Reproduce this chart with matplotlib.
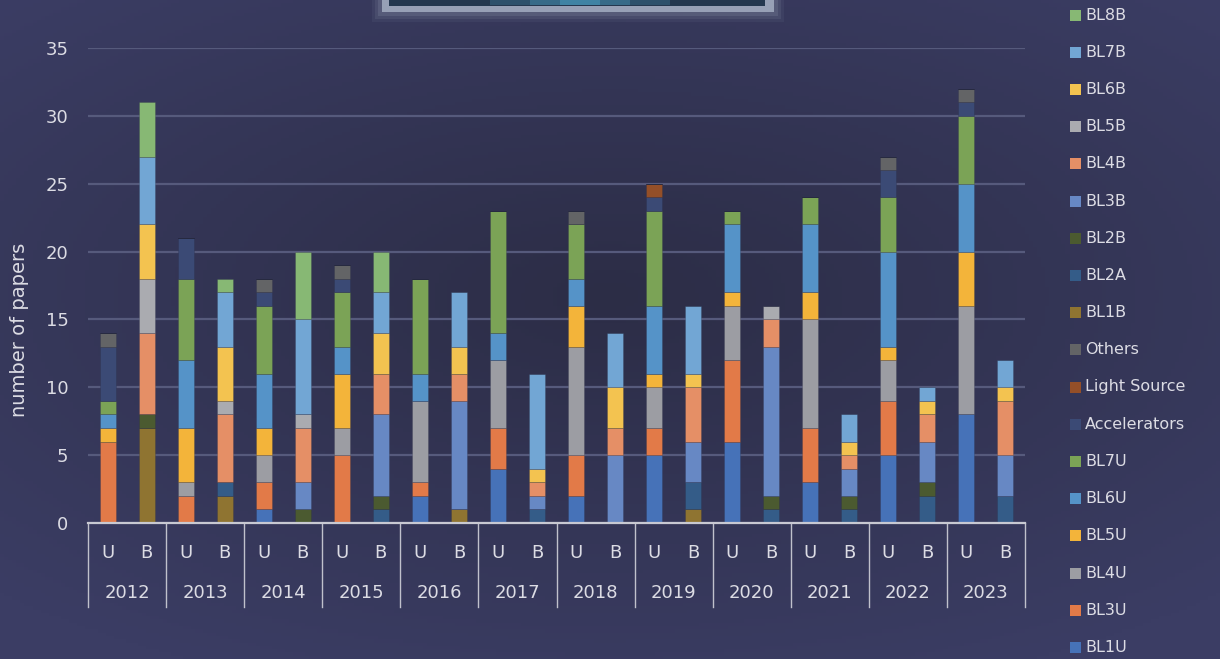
import matplotlib
matplotlib.use("Agg")
import matplotlib.pyplot as plt
import matplotlib.transforms as mtransforms
from matplotlib.patches import Rectangle
import numpy as np

years = ["2012", "2013", "2014", "2015", "2016", "2017",
         "2018", "2019", "2020", "2021", "2022", "2023"]
sub_labels = ["U", "B"]

# stacking order, bottom to top
series = ["BL1U", "BL3U", "BL4U", "BL5U", "BL6U", "BL7U",
          "Accelerators", "Light Source", "Others",
          "BL1B", "BL2A", "BL2B", "BL3B", "BL4B", "BL5B", "BL6B", "BL7B", "BL8B"]

colors = ["#4672b8", "#e27a48", "#9c9da3", "#f3b43a", "#5593c8", "#7ba356",
          "#3b4a75", "#944f28", "#636466",
          "#8f7431", "#345c88", "#4b5a30", "#6788c4", "#e58f66", "#aaabb0",
          "#f3c350", "#72a6d4", "#87b874"]

# U-side bars, one value per year
BL1U = [0, 0, 1, 0, 2, 4, 2, 5, 6, 3, 5, 8]
BL3U = [6, 2, 2, 5, 1, 3, 3, 2, 6, 4, 4, 0]
BL4U = [0, 1, 2, 2, 6, 5, 8, 3, 4, 8, 3, 8]
BL5U = [1, 4, 2, 4, 0, 0, 3, 1, 1, 2, 1, 4]
BL6U = [1, 5, 4, 2, 2, 2, 2, 5, 5, 5, 7, 5]
BL7U = [1, 6, 5, 4, 7, 9, 4, 7, 1, 2, 4, 5]
Accelerators = [4, 3, 1, 1, 0, 0, 0, 1, 0, 0, 2, 1]
Light_Source = [0, 0, 0, 0, 0, 0, 0, 1, 0, 0, 0, 0]
Others = [1, 0, 1, 1, 0, 0, 1, 0, 0, 0, 1, 1]

# B-side bars, one value per year
BL1B = [7, 2, 0, 0, 1, 0, 0, 1, 0, 0, 0, 0]
BL2A = [0, 1, 0, 1, 0, 1, 0, 2, 1, 1, 2, 2]
BL2B = [1, 0, 1, 1, 0, 0, 0, 0, 1, 1, 1, 0]
BL3B = [0, 0, 2, 6, 8, 1, 5, 3, 11, 2, 3, 3]
BL4B = [6, 5, 4, 3, 2, 1, 2, 4, 2, 1, 2, 4]
BL5B = [4, 1, 1, 0, 0, 0, 0, 0, 1, 0, 0, 0]
BL6B = [4, 4, 0, 3, 2, 1, 3, 1, 0, 1, 1, 1]
BL7B = [5, 4, 7, 3, 4, 7, 4, 5, 0, 2, 1, 2]
BL8B = [4, 1, 5, 3, 0, 0, 0, 0, 0, 0, 0, 0]

u_data = {"BL1U": BL1U, "BL3U": BL3U, "BL4U": BL4U, "BL5U": BL5U, "BL6U": BL6U,
          "BL7U": BL7U, "Accelerators": Accelerators, "Light Source": Light_Source,
          "Others": Others}
b_data = {"BL1B": BL1B, "BL2A": BL2A, "BL2B": BL2B, "BL3B": BL3B, "BL4B": BL4B,
          "BL5B": BL5B, "BL6B": BL6B, "BL7B": BL7B, "BL8B": BL8B}

W, H = 1220, 659
fig = plt.figure(figsize=(W / 100, H / 100), dpi=100)

# background gradient
bg = fig.add_axes([0, 0, 1, 1])
yy, xx = np.mgrid[0:1:200j, 0:1:300j]
r = np.sqrt(((xx - 0.5) / 0.8) ** 2 + ((yy - 0.45) / 0.7) ** 2)
dark = np.array([0x2c, 0x2d, 0x46]) / 255
light = np.array([0x3b, 0x3d, 0x64]) / 255
t = np.clip(r / 0.9, 0, 1)[..., None]
bg.imshow(dark * (1 - t) + light * t, aspect="auto", extent=[0, 1, 0, 1])
bg.axis("off")

# decorative frame at the top (soft glow, light border, dark screen)
for g, a in [(10, 0.08), (7, 0.12), (4, 0.18)]:
    fig.patches.append(Rectangle(((382 - g) / W, (H - 12 - g) / H), (392 + 2 * g) / W, (16 + g) / H,
                                 transform=fig.transFigure, facecolor="#9aa3b8", alpha=a,
                                 edgecolor="none"))
fig.patches.append(Rectangle((382 / W, (H - 12) / H), 392 / W, 16 / H, transform=fig.transFigure,
                             facecolor="#97a0b6", edgecolor="none"))
fig.patches.append(Rectangle((389 / W, (H - 6) / H), 376 / W, 10 / H, transform=fig.transFigure,
                             facecolor="#24374f", edgecolor="none"))
for g, a in [(90, 0.25), (50, 0.35), (20, 0.5)]:
    fig.patches.append(Rectangle(((580 - g) / W, (H - 5) / H), 2 * g / W, 8 / H,
                                 transform=fig.transFigure, facecolor="#4a9cc0", alpha=a,
                                 edgecolor="none"))

ax = fig.add_axes([88 / W, (H - 523) / H, 937 / W, 475 / H])
ax.set_facecolor("none")

n = len(years)
xpos = np.arange(2 * n)
u_idx = xpos[0::2]
b_idx = xpos[1::2]
width = 0.41

bottom = np.zeros(2 * n)
for name, col in zip(series, colors):
    vals = np.zeros(2 * n)
    if name in u_data:
        vals[u_idx] = u_data[name]
    else:
        vals[b_idx] = b_data[name]
    ax.bar(xpos, vals, width, bottom=bottom, color=col,
           edgecolor=(0.15, 0.16, 0.25, 0.3), linewidth=0.5, zorder=3)
    bottom += vals

ax.set_xlim(-0.5, 2 * n - 0.5)
ax.set_ylim(0, 35)
ax.set_yticks(range(0, 36, 5))
ax.yaxis.grid(True, color="#565a7c", linewidth=1.6, zorder=0)
ax.set_axisbelow(True)
for s in ["top", "right", "left"]:
    ax.spines[s].set_visible(False)
ax.spines["bottom"].set_color("#c8c9d2")
ax.spines["bottom"].set_linewidth(1.6)
ax.spines["bottom"].set_zorder(4)

ax.tick_params(axis="y", length=0, pad=14, labelsize=13, labelcolor="#dcdce4")
ax.set_xticks(xpos)
ax.set_xticklabels(sub_labels * n)
ax.tick_params(axis="x", length=0, pad=15, labelsize=13, labelcolor="#dcdce4")

trans = mtransforms.blended_transform_factory(ax.transData, ax.transAxes)
for i, yr in enumerate(years):
    ax.text(2 * i + 0.5, -0.148, yr, transform=trans, ha="center", va="center",
            fontsize=13, color="#dcdce4")
for k in range(n + 1):
    ax.plot([2 * k - 0.5, 2 * k - 0.5], [0, -0.177], transform=trans, color="#c0c1cc",
            linewidth=1.0, clip_on=False)

fig.text(20 / W, (H - 330) / H, "number of papers", rotation=90, ha="center", va="center",
         fontsize=14, color="#dcdce4")

# legend, listed top to bottom in reverse stacking order
for j, (name, col) in enumerate(zip(series[::-1], colors[::-1])):
    yc = 15 + j * 37.2
    fig.patches.append(Rectangle((1070 / W, (H - yc - 5.5) / H), 11 / W, 11 / H,
                                 transform=fig.transFigure, facecolor=col, edgecolor="none"))
    fig.text(1085 / W, (H - yc) / H, name, ha="left", va="center", fontsize=11.5,
             color="#dcdce4")

fig.savefig("out.png", dpi=100)
